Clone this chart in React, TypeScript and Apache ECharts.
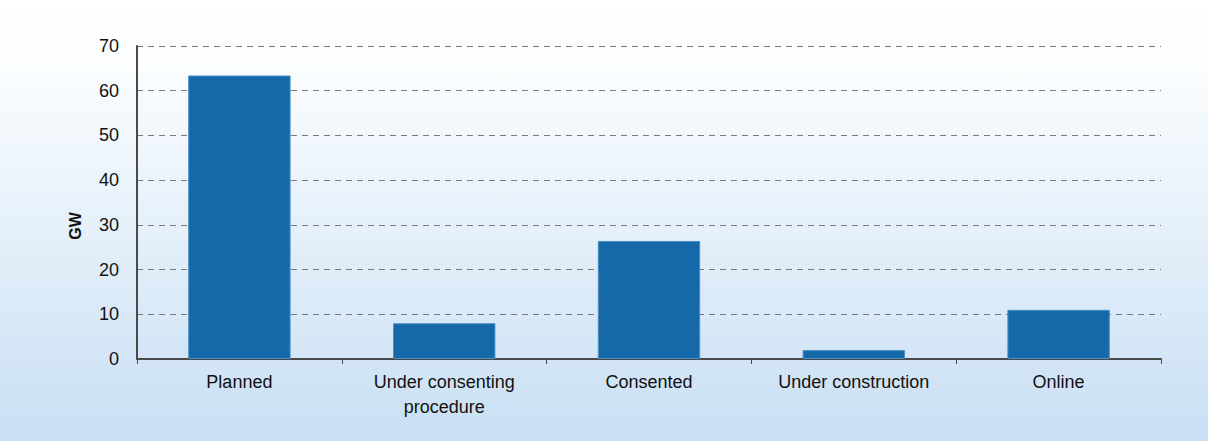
import React, { useEffect, useRef } from "react";
import * as echarts from "echarts";

const categories = ["Planned", "Under consenting\nprocedure", "Consented", "Under construction", "Online"];
const values = [63.4, 8.0, 26.4, 2.0, 11.0];
const yTicks = { min: 0, max: 70, interval: 10 };
const yAxisTitle = "GW";

export default function App() {
  const ref = useRef<HTMLDivElement>(null);
  useEffect(() => {
    const chart = echarts.init(ref.current!, null, { renderer: "svg" });
    chart.setOption({
      animation: false,
      backgroundColor: {
        type: "linear", x: 0, y: 0, x2: 0, y2: 1,
        colorStops: [
          { offset: 0, color: "#ffffff" },
          { offset: 0.15, color: "#fbfdfe" },
          { offset: 1, color: "#c8dff4" },
        ],
      },
      textStyle: { fontFamily: "Liberation Sans" },
      grid: { left: 137, right: 47, top: 46, bottom: 82 },
      graphic: [
        {
          type: "text",
          x: 75,
          y: 226,
          rotation: Math.PI / 2,
          style: {
            text: yAxisTitle,
            fill: "#111",
            font: "bold 16px 'Liberation Sans'",
            textAlign: "center",
            textVerticalAlign: "middle",
          },
        },
      ],
      xAxis: {
        type: "category",
        data: categories,
        axisLine: { lineStyle: { color: "#4a4a4a", width: 2 } },
        axisTick: { show: true, alignWithLabel: false, length: 5, lineStyle: { color: "#4a4a4a", width: 1 } },
        axisLabel: { color: "#111", fontSize: 18, margin: 10, lineHeight: 25, fontFamily: "Liberation Sans" },
      },
      yAxis: {
        type: "value",
        min: yTicks.min,
        max: yTicks.max,
        interval: yTicks.interval,
        axisLine: { show: true, lineStyle: { color: "#4a4a4a", width: 2 } },
        axisTick: { show: false },
        axisLabel: { color: "#111", fontSize: 18, margin: 18, fontFamily: "Liberation Sans" },
        splitLine: { show: true, lineStyle: { color: "#7a7a7a", type: [6, 5], width: 1 } },
      },
      series: [
        {
          type: "bar",
          data: values,
          barWidth: "50%",
          itemStyle: { color: "#1569a8", borderColor: "#4a8fc6", borderWidth: 1 },
        },
      ],
    });
    return () => chart.dispose();
  }, []);
  return <div ref={ref} style={{ position: "fixed", left: 0, top: 0, width: 1208, height: 441 }} />;
}
